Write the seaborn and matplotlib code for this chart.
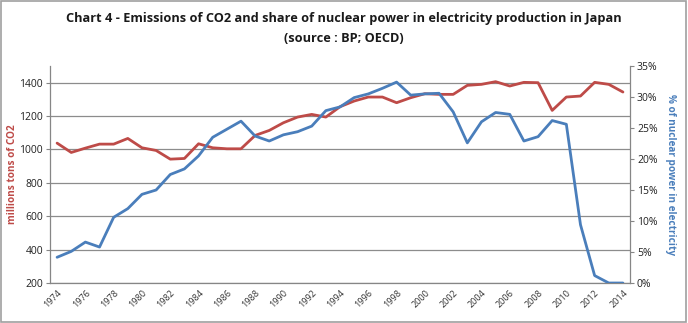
import matplotlib
matplotlib.use("Agg")
import matplotlib.pyplot as plt
import seaborn as sns
import pandas as pd
import numpy as np
from matplotlib.patches import Rectangle

years = list(range(1974, 2015))
co2 = [1038, 982, 1008, 1032, 1032, 1066, 1010, 994, 942, 946,
       1034, 1010, 1004, 1004, 1084, 1114, 1160, 1194, 1210, 1194,
       1256, 1290, 1314, 1314, 1280, 1310, 1334, 1330, 1330, 1384,
       1390, 1406, 1380, 1402, 1400, 1234, 1314, 1320, 1402, 1390, 1344]
nuclear = [4.15, 5.1, 6.6, 5.8, 10.6, 12.0, 14.3, 15.0, 17.5, 18.4,
           20.5, 23.5, 24.8, 26.1, 23.7, 22.9, 23.9, 24.4, 25.3, 27.8,
           28.4, 29.9, 30.5, 31.4, 32.4, 30.3, 30.5, 30.6, 27.6, 22.6,
           26.0, 27.5, 27.2, 22.9, 23.6, 26.2, 25.6, 9.4, 1.2, 0.0, 0.0]
left_ticks = [200, 400, 600, 800, 1000, 1200, 1400]
right_ticks = [0, 5, 10, 15, 20, 25, 30, 35]

title = "Chart 4 - Emissions of CO2 and share of nuclear power in electricity production in Japan\n(source : BP; OECD)"
red = "#BE4B48"
blue = "#4A7EBB"
grey = "#868686"

df = pd.DataFrame({"idx": np.arange(len(years)), "year": years, "co2": co2, "nuc": nuclear})

sns.set_style("white")
plt.rcParams["font.family"] = ["Open Sans", "DejaVu Sans"]

fig = plt.figure(figsize=(6.88, 3.23), dpi=100)
fig.patches.append(Rectangle((0.002, 0.003), 0.995, 0.993, transform=fig.transFigure,
                             fill=False, edgecolor="#A0A0A0", linewidth=1.2))
ax = fig.add_axes([0.0727, 0.1238, 0.8430, 0.6719])
ax2 = ax.twinx()

sns.lineplot(data=df, x="idx", y="co2", ax=ax, color=red, linewidth=2.0, zorder=3)
sns.lineplot(data=df, x="idx", y="nuc", ax=ax2, color=blue, linewidth=2.0, zorder=3)

n = len(years)
ax.set_xlim(-0.5, n - 0.5)
ax.set_ylim(200, 1500)
ax2.set_ylim(0, 35)

ax.set_yticks(left_ticks)
ax.set_yticklabels([str(v) for v in left_ticks], fontsize=7.5, color="#222222")
ax2.set_yticks(right_ticks)
ax2.set_yticklabels([f"{v}%" for v in right_ticks], fontsize=7.5, color="#222222")

major = [i for i, y in enumerate(years) if y % 2 == 0]
ax.set_xticks(major)
ax.set_xticklabels([str(years[i]) for i in major], rotation=45, fontsize=6.5,
                   color="#333333", ha="right", rotation_mode="anchor")
ax.set_xticks(np.arange(-0.5, n, 1.0), minor=True)
ax.tick_params(axis="x", which="major", length=0, pad=4)
ax.tick_params(axis="x", which="minor", length=3, color=grey, width=0.8, direction="out")
ax.tick_params(axis="y", length=3, color=grey, width=0.8, direction="out", pad=2, left=True)
ax2.tick_params(axis="y", length=3, color=grey, width=0.8, direction="out", pad=2, right=True)

ax.grid(axis="y", color="#8C8C8C", linewidth=0.9)
ax.set_axisbelow(True)

for a in (ax, ax2):
    a.spines["top"].set_visible(False)
    for s in ("left", "right", "bottom"):
        a.spines[s].set_color(grey)
        a.spines[s].set_linewidth(0.9)
ax.spines["right"].set_visible(False)
ax2.spines["left"].set_visible(False)
ax2.spines["bottom"].set_visible(False)

ax.set_xlabel("")
ax.set_ylabel("millions tons of CO2", color=red, fontsize=7.2, fontweight="bold", va="center")
ax.yaxis.set_label_coords(-0.064, 0.5)
ax2.set_ylabel("% of nuclear power in electricity", color=blue, fontsize=7.2,
               fontweight="bold", rotation=270, va="center")
ax2.yaxis.set_label_coords(1.07, 0.5)

fig.text(0.5, 0.912, title, ha="center", va="center", fontsize=9.2, fontweight="bold",
         color="#1a1a1a", linespacing=1.75)

fig.savefig("out.png", dpi=100)
